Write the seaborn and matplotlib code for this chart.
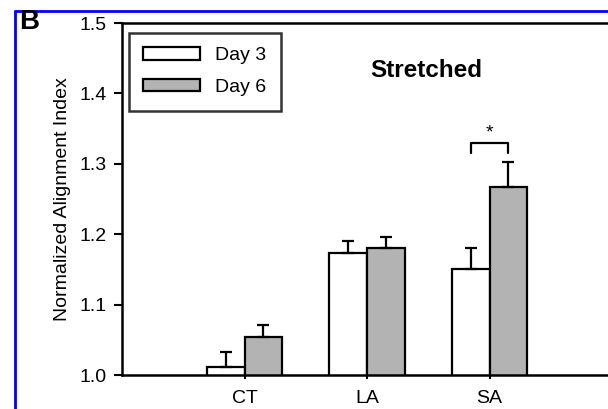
import matplotlib
matplotlib.use("Agg")
import matplotlib.pyplot as plt
import seaborn as sns
import pandas as pd
from matplotlib.lines import Line2D

groups = ["CT", "LA", "SA"]
days = ["Day 3", "Day 6"]
day3_mean = [1.011, 1.174, 1.150]
day6_mean = [1.054, 1.180, 1.267]
day3_err = [0.022, 0.017, 0.030]
day6_err = [0.017, 0.016, 0.036]

df = pd.DataFrame({
    "group": groups * 2,
    "day": [days[0]] * 3 + [days[1]] * 3,
    "value": day3_mean + day6_mean,
})

sns.set_style("ticks")
plt.rcParams["font.family"] = ["Liberation Sans", "DejaVu Sans"]
plt.rcParams["text.color"] = "black"
plt.rcParams["axes.labelcolor"] = "black"
plt.rcParams["xtick.color"] = "black"
plt.rcParams["ytick.color"] = "black"

fig = plt.figure(figsize=(6.08, 4.09), dpi=100)
ax = fig.add_axes([122 / 608, 1 - 375 / 409, 490 / 608, 352 / 409])

sns.barplot(data=df, x="group", y="value", hue="day", order=groups, hue_order=days,
            palette=["white", "#b3b3b3"], edgecolor="black", linewidth=1.6,
            width=0.62, errorbar=None, ax=ax)

# one-sided error bars at the bar centres
errs = day3_err + day6_err
for patch, e in zip(ax.patches[:6], errs):
    xc = patch.get_x() + patch.get_width() / 2
    top = patch.get_y() + patch.get_height()
    ax.errorbar(xc, top, yerr=[[0], [e]], fmt="none", ecolor="black",
                elinewidth=1.6, capsize=4.5, capthick=1.6, zorder=3)

ax.set_ylim(1.0, 1.5)
ax.set_xlim(-1, 3)
ax.set_yticks([1.0, 1.1, 1.2, 1.3, 1.4, 1.5])
ax.set_yticklabels(["1.0", "1.1", "1.2", "1.3", "1.4", "1.5"])
ax.set_xlabel("")
ax.set_ylabel("Normalized Alignment Index", fontsize=14, labelpad=6)
ax.tick_params(axis="y", length=6, width=1.5, labelsize=14, pad=5)
ax.tick_params(axis="x", length=3, width=1.5, labelsize=14, pad=8)
for s in ["left", "bottom", "top"]:
    ax.spines[s].set_linewidth(1.8)
    ax.spines[s].set_color("black")
ax.spines["right"].set_visible(False)

# significance bracket over SA
sa3 = ax.patches[2]
sa6 = ax.patches[5]
x1 = sa3.get_x() + sa3.get_width() / 2
x2 = sa6.get_x() + sa6.get_width() / 2
ax.plot([x1, x1, x2, x2], [1.315, 1.33, 1.33, 1.315], color="black", lw=1.6)
ax.text((x1 + x2) / 2, 1.332, "*", ha="center", va="bottom", fontsize=14)

ax.text(0.62, 0.865, "Stretched", transform=ax.transAxes, ha="center", va="center",
        fontsize=17.5, fontweight="bold")

leg = ax.legend(loc="upper left", bbox_to_anchor=(0.014, 0.972), borderaxespad=0,
                fontsize=14, frameon=True, fancybox=False, handlelength=2.9,
                handleheight=0.6, borderpad=0.75, labelspacing=0.75, handletextpad=0.8)
leg.get_frame().set_edgecolor("black")
leg.get_frame().set_linewidth(1.8)
for h in leg.legend_handles:
    h.set_linewidth(1.6)

# panel letter and blue frame
fig.text(19 / 608, 1 - 22 / 409, "B", fontsize=20, fontweight="bold", va="center", ha="left")
fig.add_artist(Line2D([15 / 608, 15 / 608], [0, 1 - 11 / 409], color="blue", lw=2))
fig.add_artist(Line2D([15 / 608, 1], [1 - 11 / 409, 1 - 11 / 409], color="blue", lw=2))

fig.savefig("out.png", dpi=100)
